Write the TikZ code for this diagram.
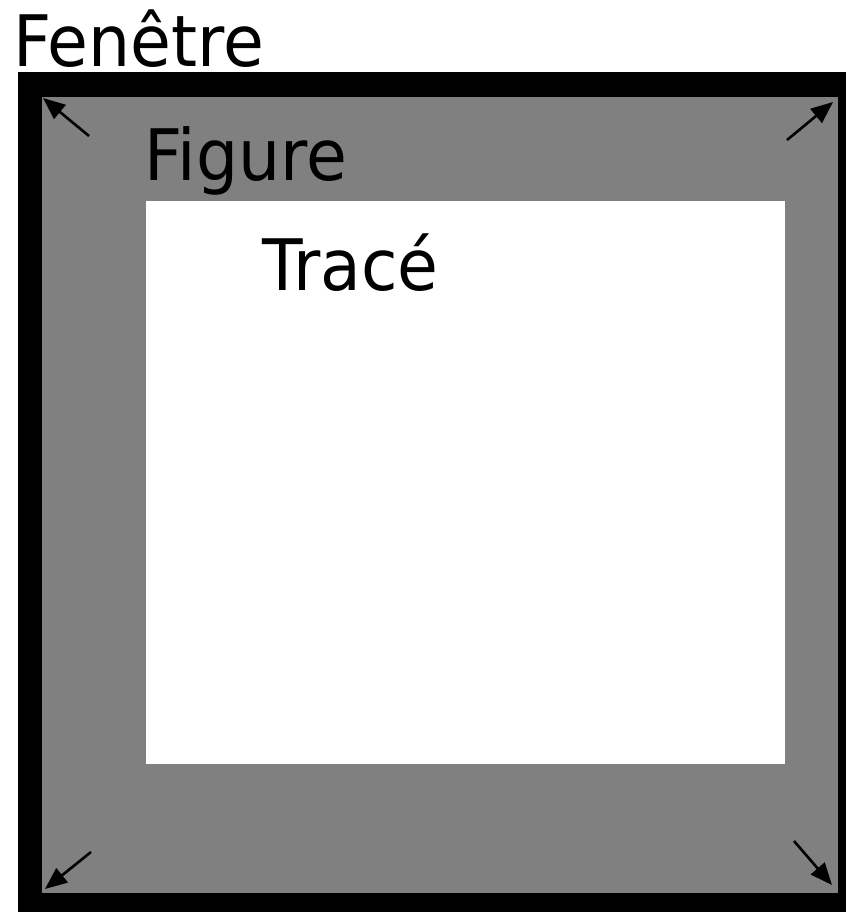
\documentclass[tikz,border=0pt]{standalone}
\usepackage{fontspec}
\setmainfont{DejaVu Sans}[FakeStretch=0.935]
\usepackage{xcolor}
\usetikzlibrary{arrows.meta,positioning,calc}
\definecolor{figgray}{RGB}{128,128,128}

\begin{document}
\begin{tikzpicture}[
    x=1pt, y=-1pt,
    font=\fontsize{71}{80}\selectfont,
    zone/.style={rectangle, inner sep=0pt, outer sep=0pt},
    lbl/.style={anchor=base west, inner sep=0pt},
    arr/.style={-{Triangle[length=22pt, width=18pt]}, line width=2.6pt}
]
\useasboundingbox (0,0) rectangle (846,912);

% Zones
\node[zone, fill=black, minimum width=828pt, minimum height=840pt] (fen) at (432,492) {};
\node[zone, fill=figgray, minimum width=796pt, minimum height=796pt] (fig) at (440,495) {};
\node[zone, fill=white, minimum width=639pt, minimum height=563pt] (trace) at (465.5,482.5) {};

% Labels
\node[lbl] (lfen) at (13,67) {Fenêtre};
\node[lbl] (lfig) at (144,181) {Figure};
\node[lbl] (ltr) at (262,290) {Tracé};

% Corner arrows
\coordinate (a1) at (89,136);  \coordinate (b1) at (43,98);
\coordinate (a2) at (787,140); \coordinate (b2) at (833,102);
\coordinate (a3) at (91,852);  \coordinate (b3) at (45,889);
\coordinate (a4) at (794,841); \coordinate (b4) at (832,885);
\draw[arr] (a1) -- (b1);
\draw[arr] (a2) -- (b2);
\draw[arr] (a3) -- (b3);
\draw[arr] (a4) -- (b4);
\end{tikzpicture}
\end{document}
